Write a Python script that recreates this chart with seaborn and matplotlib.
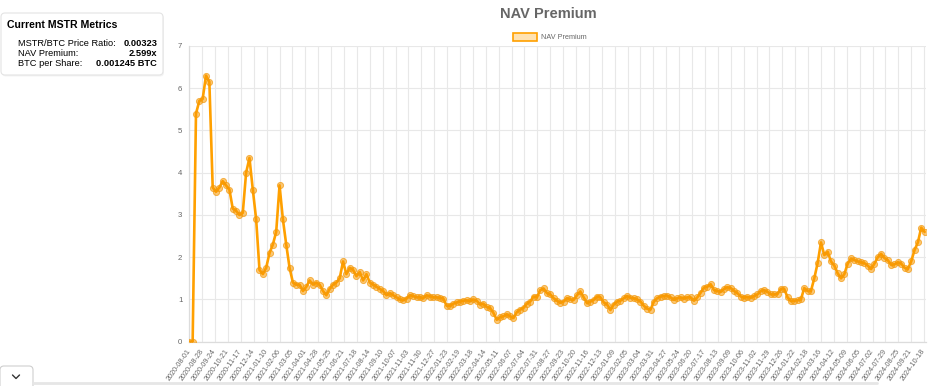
import matplotlib
matplotlib.use('Agg')
import matplotlib.pyplot as plt
import seaborn as sns
import pandas as pd
from matplotlib.patches import FancyBboxPatch, Rectangle
from matplotlib.lines import Line2D
from matplotlib.transforms import IdentityTransform

# ---------------- data (weekly readings of the chart) ----------------
start_date = '2020-08-01'
end_date = '2024-10-22'
nav_premium = [
    0.0, 0.0, 5.4, 5.7, 5.75, 6.3, 6.15, 3.65, 3.55, 3.65,
    3.8, 3.7, 3.6, 3.15, 3.1, 3.0, 3.05, 4.0, 4.35, 3.6,
    2.9, 1.7, 1.6, 1.75, 2.1, 2.3, 2.6, 3.7, 2.9, 2.3,
    1.75, 1.4, 1.35, 1.35, 1.2, 1.3, 1.45, 1.35, 1.4, 1.35,
    1.2, 1.1, 1.25, 1.35, 1.4, 1.5, 1.9, 1.6, 1.75, 1.7,
    1.55, 1.65, 1.45, 1.6, 1.4, 1.35, 1.3, 1.25, 1.2, 1.1,
    1.15, 1.1, 1.05, 1.0, 0.98, 1.02, 1.1, 1.08, 1.05, 1.05,
    1.03, 1.1, 1.07, 1.05, 1.05, 1.04, 1.02, 0.85, 0.85, 0.9,
    0.93, 0.95, 0.97, 0.98, 0.96, 1.0, 0.97, 0.88, 0.9, 0.82,
    0.8, 0.68, 0.52, 0.58, 0.6, 0.65, 0.6, 0.56, 0.7, 0.76,
    0.8, 0.9, 0.95, 1.07, 1.05, 1.22, 1.26, 1.15, 1.12, 1.03,
    0.97, 0.92, 0.95, 1.03, 1.0, 0.99, 1.1, 1.19, 1.05, 0.91,
    0.95, 0.99, 1.07, 1.05, 0.93, 0.88, 0.75, 0.88, 0.95, 0.97,
    1.03, 1.08, 1.04, 1.03, 1.0, 0.95, 0.85, 0.78, 0.76, 0.95,
    1.03, 1.07, 1.08, 1.09, 1.05, 0.99, 1.03, 1.05, 1.02, 1.05,
    1.05, 0.97, 1.05, 1.16, 1.28, 1.3, 1.36, 1.22, 1.2, 1.18,
    1.25, 1.29, 1.27, 1.2, 1.15, 1.07, 1.04, 1.06, 1.04, 1.08,
    1.12, 1.2, 1.22, 1.18, 1.12, 1.12, 1.13, 1.25, 1.25, 1.05,
    0.96, 0.97, 0.98, 1.0, 1.27, 1.2, 1.2, 1.5, 1.86, 2.35,
    2.05, 2.13, 1.9, 1.8, 1.62, 1.5, 1.6, 1.85, 1.97, 1.93,
    1.9, 1.88, 1.86, 1.8, 1.72, 1.85, 2.0, 2.08, 1.98, 1.93,
    1.82, 1.83, 1.88, 1.85, 1.75, 1.72, 1.9, 2.17, 2.35, 2.7,
    2.6,
]
tick_labels = [
    '2020-08-01', '2020-08-28', '2020-09-24', '2020-10-21', '2020-11-17', '2020-12-14',
    '2021-01-10', '2021-02-06', '2021-03-05', '2021-04-01', '2021-04-28', '2021-05-25',
    '2021-06-21', '2021-07-18', '2021-08-14', '2021-09-10', '2021-10-07', '2021-11-03',
    '2021-11-30', '2021-12-27', '2022-01-23', '2022-02-19', '2022-03-18', '2022-04-14',
    '2022-05-11', '2022-06-07', '2022-07-04', '2022-07-31', '2022-08-27', '2022-09-23',
    '2022-10-20', '2022-11-16', '2022-12-13', '2023-01-09', '2023-02-05', '2023-03-04',
    '2023-03-31', '2023-04-27', '2023-05-24', '2023-06-20', '2023-07-17', '2023-08-13',
    '2023-09-09', '2023-10-06', '2023-11-02', '2023-11-29', '2023-12-26', '2024-01-22',
    '2024-02-18', '2024-03-16', '2024-04-12', '2024-05-09', '2024-06-05', '2024-07-02',
    '2024-07-29', '2024-08-25', '2024-09-21', '2024-10-18',
]
y_ticks = [0, 1, 2, 3, 4, 5, 6, 7]
series_name = 'NAV Premium'
chart_title = 'NAV Premium'
metrics_title = 'Current MSTR Metrics'
metrics_labels = ['MSTR/BTC Price Ratio:', 'NAV Premium:', 'BTC per Share:']
metrics_values = ['0.00323', '2.599x', '0.001245 BTC']

# ---------------- style ----------------
sns.set_theme(style='white')
plt.rcParams['font.family'] = ['Liberation Sans', 'DejaVu Sans']

W, H = 950, 386
fig = plt.figure(figsize=(W / 100, H / 100), dpi=100)
fig.patch.set_facecolor('white')


def fx(px):
    return px / W


def fy(py):
    return 1 - py / H


ORANGE = '#FFA000'
GRID = '#e8e8e8'
TXT = '#666666'

ax = fig.add_axes([fx(189.3), fy(341.7), fx(926) - fx(189.3), fy(46) - fy(341.7)])
dates = pd.date_range(start_date, periods=len(nav_premium), freq='7D')
df = pd.DataFrame({'date': dates, series_name: nav_premium})
sns.lineplot(data=df, x='date', y=series_name, ax=ax, color=ORANGE, lw=1.9,
             marker='o', markersize=4.4, markerfacecolor=(0.98, 0.6, 0.0, 0.55),
             markeredgecolor=(0.95, 0.6, 0.05, 0.7), markeredgewidth=0.7,
             legend=False, zorder=3)

ax.set_xlim(pd.Timestamp(start_date), pd.Timestamp(end_date))
ax.set_ylim(0, 7)
ax.set_yticks(y_ticks)
ax.set_yticklabels([str(v) for v in y_ticks])
ax.set_xticks(pd.to_datetime(tick_labels))
ax.set_xticklabels(tick_labels, rotation=55, ha='right', va='center',
                   rotation_mode='anchor')
ax.set_xlabel('')
ax.set_ylabel('')
ax.grid(True, color=GRID, lw=0.8)
ax.set_axisbelow(True)
for s in ['top', 'right']:
    ax.spines[s].set_visible(False)
for s in ['left', 'bottom']:
    ax.spines[s].set_color('#dcdcdc')
    ax.spines[s].set_linewidth(0.9)
ax.tick_params(axis='y', length=3, width=0.8, color=GRID, labelsize=5.6,
               labelcolor=TXT, pad=2)
ax.tick_params(axis='x', length=3, width=0.8, color=GRID, labelsize=5.2,
               labelcolor=TXT, pad=3)

# title
fig.text(fx(548), fy(14), chart_title, ha='center', va='center',
         fontsize=10.5, fontweight='bold', color=TXT)

# legend (manual, Chart.js style)
fig.add_artist(Rectangle((fx(513), fy(41)), fx(24), fy(33) - fy(41),
                         transform=fig.transFigure, facecolor=(1.0, 0.63, 0.0, 0.3),
                         edgecolor=ORANGE, lw=1.2))
fig.text(fx(541), fy(37.5), series_name, ha='left', va='center',
         fontsize=5.2, color=TXT)

# metrics box
ident = IdentityTransform()
fig.add_artist(FancyBboxPatch((2, H - 76.5), 162, 62,
                              boxstyle='round,pad=0,rounding_size=4',
                              transform=ident, facecolor='#f0f0f0',
                              edgecolor='none', alpha=0.8, zorder=1))
fig.add_artist(FancyBboxPatch((1, H - 75), 162, 62,
                              boxstyle='round,pad=0,rounding_size=4',
                              transform=ident, facecolor='white',
                              edgecolor='#e4e4e4', lw=0.8, zorder=2))
fig.text(fx(7), fy(25), metrics_title, ha='left', va='center',
         fontsize=7.6, fontweight='bold', color='black', zorder=3)
row_y = [43, 53.5, 64]
for lab, val, yy in zip(metrics_labels, metrics_values, row_y):
    fig.text(fx(17.5), fy(yy), lab, ha='left', va='center', fontsize=6.7,
             color='black', zorder=3)
    fig.text(fx(157), fy(yy), val, ha='right', va='center', fontsize=6.7,
             fontweight='bold', color='black', zorder=3)

# bottom-left tab with chevron and scroll line
fig.add_artist(Line2D([fx(33), fx(877)], [fy(383), fy(383)], color='#e6e6e6',
                      lw=2.0, transform=fig.transFigure))
fig.add_artist(FancyBboxPatch((0, -6), 33, 26, boxstyle='round,pad=0,rounding_size=4',
                              transform=ident, facecolor='white',
                              edgecolor='#cfcfcf', lw=0.8))
fig.add_artist(Line2D([fx(12.5), fx(16), fx(19.5)], [fy(375), fy(378.5), fy(375)],
                      color='#333333', lw=1.0, transform=fig.transFigure))

fig.savefig('out.png', dpi=100, facecolor='white')
